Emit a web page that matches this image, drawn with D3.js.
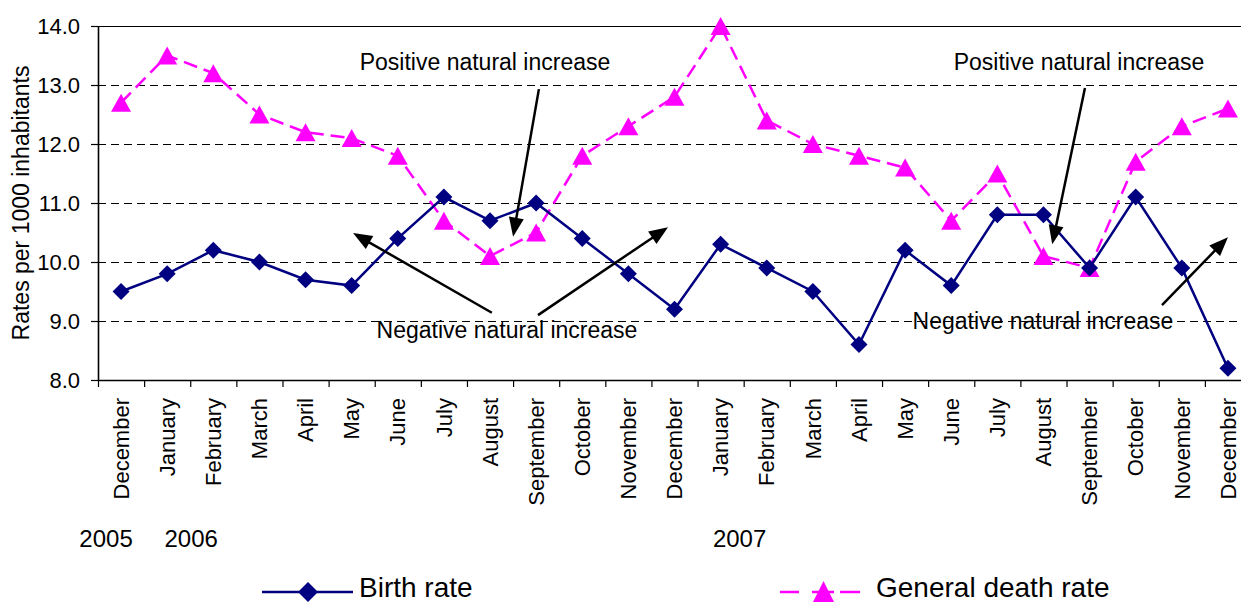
<!DOCTYPE html>
<html><head><meta charset="utf-8">
<script src="https://cdn.jsdelivr.net/npm/d3@7"></script>
<style>
html,body{margin:0;padding:0;background:#fff;}
svg{display:block;font-family:"Liberation Sans",Arial,sans-serif;}
</style></head>
<body>
<svg id="c" width="1241" height="603"></svg>
<script>
const months = ["December","January","February","March","April","May","June","July","August","September","October","November","December","January","February","March","April","May","June","July","August","September","October","November","December"];
const birthRate = [9.5,9.8,10.2,10.0,9.7,9.6,10.4,11.1,10.7,11.0,10.4,9.8,9.2,10.3,9.9,9.5,8.6,10.2,9.6,10.8,10.8,9.9,11.1,9.9,8.2];
const deathRate = [12.7,13.5,13.2,12.5,12.2,12.1,11.8,10.7,10.1,10.5,11.8,12.3,12.8,14.0,12.4,12.0,11.8,11.6,10.7,11.5,10.1,9.9,11.7,12.3,12.6];
const yTicks = [8,9,10,11,12,13,14];
const years = ["2005","2006","2007"];
const yearIndex = [0,1,13];
const seriesNames = ["Birth rate","General death rate"];
const annotationTexts = ["Positive natural increase","Negative natural increase","Positive natural increase","Negative natural increase"];
// arrows in data space: [fromIndex, fromValue, toIndex, toValue]
const arrows = [
  [9.06,12.93, 8.50,10.43],
  [8.04,9.14, 5.03,10.49],
  [9.04,9.10, 11.86,10.59],
  [20.90,12.95, 20.19,10.30],
  [22.57,9.27, 24.00,10.42]
];

const svg = d3.select("#c");
const L = 98, R = 1251, T = 26, B = 380;
const n = months.length;
const xB = d3.scaleLinear().domain([0, n]).range([L, R]);
const xc = i => xB(i + 0.5);
const y = d3.scaleLinear().domain([8, 14]).range([B, T]);

// gridlines
svg.append("g").selectAll("line").data(yTicks.filter(d => d > 8 && d < 14)).join("line")
  .attr("x1", L).attr("x2", R).attr("y1", d => y(d) + 0.5).attr("y2", d => y(d) + 0.5)
  .attr("stroke", "#000").attr("stroke-width", 1).attr("stroke-dasharray", "8,5");
// top border
svg.append("line").attr("x1", L).attr("x2", R).attr("y1", y(14) + 0.5).attr("y2", y(14) + 0.5)
  .attr("stroke", "#000").attr("stroke-width", 1.2);

// y axis
const ya = svg.append("g").attr("transform", `translate(${L},0)`)
  .call(d3.axisLeft(y).tickValues(yTicks).tickFormat(d3.format(".1f")).tickSize(7).tickSizeOuter(0).tickPadding(11));
ya.select(".domain").attr("stroke", "#000").attr("stroke-width", 1.6);
ya.selectAll(".tick line").attr("stroke", "#000").attr("stroke-width", 1.2);
ya.selectAll(".tick text").attr("font-size", 22).attr("fill", "#000").attr("font-family", "Liberation Sans, Arial, sans-serif");

// x axis
const xa = svg.append("g").attr("transform", `translate(0,${B})`)
  .call(d3.axisBottom(xB).tickValues(d3.range(0, n + 1)).tickFormat("").tickSize(7).tickSizeOuter(0));
xa.select(".domain").attr("stroke", "#000").attr("stroke-width", 1.6);
xa.selectAll(".tick line").attr("stroke", "#000").attr("stroke-width", 1.2);

// month labels
svg.append("g").selectAll("text").data(months).join("text")
  .attr("transform", (d, i) => `translate(${xc(i)},398) rotate(-90)`)
  .attr("text-anchor", "end").attr("dy", "0.35em")
  .attr("font-size", 22).attr("fill", "#000").text(d => d);

// year labels
const yearOffsets = [-15, 24, 19];
svg.append("g").selectAll("text").data(years).join("text")
  .attr("x", (d, i) => xc(yearIndex[i]) + yearOffsets[i]).attr("y", 547)
  .attr("text-anchor", "middle").attr("font-size", 24).attr("fill", "#000").text(d => d);

// y title
svg.append("text").attr("transform", "translate(21,203) rotate(-90)")
  .attr("text-anchor", "middle").attr("dy", "0.35em").attr("font-size", 23).attr("fill", "#000")
  .text("Rates per 1000 inhabitants");

// lines
const line = d3.line().x((d, i) => xc(i)).y(d => y(d));
svg.append("path").datum(deathRate).attr("d", line).attr("fill", "none")
  .attr("stroke", "#FF00FF").attr("stroke-width", 2.5).attr("stroke-dasharray", "14,7");
svg.append("path").datum(birthRate).attr("d", line).attr("fill", "none")
  .attr("stroke", "#000080").attr("stroke-width", 2.5);

const diamond = (cx, cy, r) => `M${cx},${cy - r}L${cx + r},${cy}L${cx},${cy + r}L${cx - r},${cy}Z`;
const tri = (cx, cy) => `M${cx},${cy - 9}L${cx + 10},${cy + 9}L${cx - 10},${cy + 9}Z`;

svg.append("g").selectAll("path").data(deathRate).join("path")
  .attr("d", (d, i) => tri(xc(i), y(d))).attr("fill", "#FF00FF");
svg.append("g").selectAll("path").data(birthRate).join("path")
  .attr("d", (d, i) => diamond(xc(i), y(d), 8.5)).attr("fill", "#000080");

// annotations text
const annPos = [[485, 70], [507, 338], [1079, 70], [1043, 329]];
svg.append("g").selectAll("text").data(annotationTexts).join("text")
  .attr("x", (d, i) => annPos[i][0]).attr("y", (d, i) => annPos[i][1])
  .attr("text-anchor", "middle").attr("font-size", 23).attr("fill", "#000").text(d => d);

// arrows
const ag = svg.append("g");
arrows.forEach(a => {
  const x1 = xc(a[0]), y1 = y(a[1]), x2 = xc(a[2]), y2 = y(a[3]);
  const dx = x2 - x1, dy = y2 - y1, len = Math.hypot(dx, dy);
  const ux = dx / len, uy = dy / len, hl = 19, hw = 7.5;
  const bx = x2 - ux * hl, by = y2 - uy * hl;
  ag.append("line").attr("x1", x1).attr("y1", y1).attr("x2", bx + ux * 2).attr("y2", by + uy * 2)
    .attr("stroke", "#000").attr("stroke-width", 2.5);
  ag.append("path").attr("d", `M${x2},${y2}L${bx - uy * hw},${by + ux * hw}L${bx + uy * hw},${by - ux * hw}Z`)
    .attr("fill", "#000");
});

// legend
const lg = svg.append("g");
const ly = 592;
lg.append("line").attr("x1", 262).attr("x2", 353).attr("y1", ly).attr("y2", ly)
  .attr("stroke", "#000080").attr("stroke-width", 2.5);
lg.append("path").attr("d", diamond(308, ly, 10)).attr("fill", "#000080");
lg.append("text").attr("x", 359).attr("y", 597).attr("font-size", 28).attr("fill", "#000").text(seriesNames[0]);
lg.append("line").attr("x1", 780).attr("x2", 860).attr("y1", ly).attr("y2", ly)
  .attr("stroke", "#FF00FF").attr("stroke-width", 2.5).attr("stroke-dasharray", "19,13,22,6,20");
lg.append("path").attr("d", `M823.5,${ly - 11}L834,${ly + 10}L813,${ly + 10}Z`).attr("fill", "#FF00FF");
lg.append("text").attr("x", 876).attr("y", 597).attr("font-size", 28).attr("fill", "#000").text(seriesNames[1]);
</script>
</body></html>
